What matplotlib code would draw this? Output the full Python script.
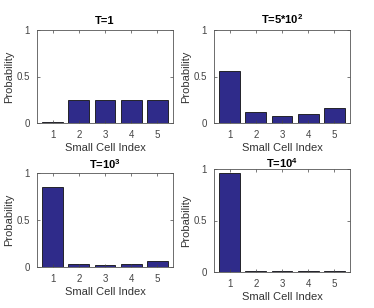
import numpy as np
import matplotlib
matplotlib.use('Agg')
from matplotlib import pyplot as plt

cells = [1, 2, 3, 4, 5]
titles = ['T=1', r'T=5*10$^{\mathbf{2}}$', r'T=10$^{\mathbf{3}}$',
          r'T=10$^{\mathbf{4}}$']
prob_t1 = [0.015, 0.25, 0.25, 0.25, 0.25]
prob_t500 = [0.557, 0.115, 0.072, 0.094, 0.162]
prob_t1000 = [0.855, 0.03, 0.024, 0.034, 0.062]
prob_t10000 = [0.96, 0.01, 0.01, 0.01, 0.01]


def main():
    plt.rcParams['font.family'] = ['Liberation Sans', 'DejaVu Sans']
    plt.rcParams['mathtext.fontset'] = 'custom'
    plt.rcParams['mathtext.rm'] = 'Liberation Sans'
    plt.rcParams['mathtext.bf'] = 'Liberation Sans:bold'

    fig = plt.figure(figsize=(3.74, 3.08), dpi=100)
    W, H = 374, 308
    # axes boxes in pixels: left, top, right, bottom
    boxes = [(37, 30, 173, 123), (214, 30, 350, 123),
             (37, 173, 173, 267), (214, 169, 350, 272)]
    title_pads = [4, 4, 3, 1]
    data = [prob_t1, prob_t500, prob_t1000, prob_t10000]

    for (l, t, r, b), vals, title, tp in zip(boxes, data, titles, title_pads):
        ax = fig.add_axes([l / W, 1 - b / H, (r - l) / W, (b - t) / H])
        ax.bar(cells, vals, width=0.8, color='#2f2b8a', edgecolor='#111111',
               linewidth=0.6)
        ax.set_xlim(0.4, 5.6)
        ax.set_ylim(0, 1)
        ax.set_xticks(cells)
        ax.set_yticks([0, 0.5, 1])
        ax.set_yticklabels(['0', '0.5', '1'])
        ax.tick_params(direction='in', top=True, right=True, length=2.5,
                       width=0.5, labelsize=7, colors='#444444', pad=5)
        for s in ax.spines.values():
            s.set_color('#555555')
            s.set_linewidth(0.6)
        ax.set_title(title, fontsize=8, fontweight='bold', pad=tp)
        ax.set_xlabel('Small Cell Index', fontsize=8, color='#333333',
                      labelpad=2)
        ax.set_ylabel('Probability', fontsize=8, color='#333333', labelpad=2)

    plt.savefig('out.png', dpi=100)


if __name__ == '__main__':
    main()
